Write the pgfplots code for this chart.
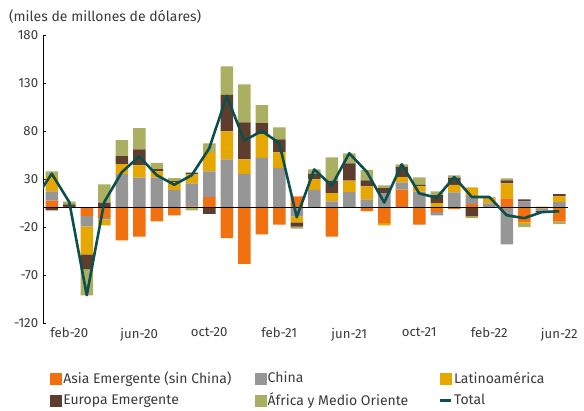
\documentclass[border=0pt]{standalone}
\usepackage{pgfplots}
\pgfplotsset{compat=1.18}
\usepackage{pgfplotstable}
\usepackage{fontspec}
\setmainfont{Fira Sans}
\definecolor{cAsia}{HTML}{F1700F}
\definecolor{cChina}{HTML}{969696}
\definecolor{cLat}{HTML}{E6A800}
\definecolor{cEur}{HTML}{5E3D2F}
\definecolor{cAfr}{HTML}{ABAF62}
\definecolor{cTot}{HTML}{0C4F4C}
\definecolor{txt}{HTML}{3A3A3A}

\pgfplotstableread{
idx asia china lat eur afr
0 7.5 9.5 16 -2.8 5
1 1 0 0 2.5 3
2 -8.3 -11 -29.2 -15.6 -27
3 -10.8 -1.3 -6.2 5.5 18.8
4 -34 35 10.5 8.3 16.7
5 -30 31.5 12.8 16.6 22
6 -14.2 31.5 6.5 2.4 6.3
7 -8 18.3 8.5 1 3
8 1.4 24 9.4 1.8 -2.7
9 11 27 20 -6.3 9
10 -31.6 50.5 29.2 37.8 29.9
11 -58.5 35 15.5 38.5 39.6
12 -27.7 52 24.7 11.4 18.8
13 -17.4 41.5 16.3 13.6 12.5
14 11.8 -9 -6.3 -4.2 -2.1
15 0 18.6 11 6 4.4
16 -30 6.6 8.8 13 24
17 0 16.3 12.1 18 10.4
18 -3.5 8.8 13.6 6.2 11
19 -16 15.4 -2.3 5.2 2.8
20 19 7.5 5.5 10.5 2.8
21 -17.4 16.8 5.6 1.4 8
22 -4.5 -3.5 4.8 8.3 4
23 -1.4 16.1 7.7 7.7 2.4
24 3.9 8.4 9.1 -8.7 -2
25 0 4.5 6 0 1
26 9.7 -38.2 15.8 3.1 2.1
27 -15.3 6.8 -1.4 2.1 -3.4
28 -0.5 -2.5 1.2 -1.5 -0.8
29 -14.3 6 6 2.3 -2.8
}\data

\pgfplotstableread{
idx total
-1 8
0 35.5
1 6
2 -91
3 6
4 37
5 53.5
6 34
7 24
8 34
9 62
10 116.5
11 70
12 80
13 67.5
14 -9.7
15 40
16 23
17 56.8
18 37.5
19 5.5
20 45.3
21 15
22 10.5
23 32
24 11.3
25 11.3
26 -7.8
27 -10.8
28 -4.5
29 -3.6
}\totaldata

\pgfplotsset{base/.style={
  width=525pt, height=288pt, scale only axis,
  xmin=-0.5, xmax=29.5, ymin=-120, ymax=180,
  at={(43pt,87pt)}, anchor=south west,
}}

\begin{document}
\fontsize{14}{16}\selectfont
\begin{tikzpicture}[x=1pt,y=1pt]
\useasboundingbox (0,0) rectangle (584,410);
\node[anchor=west, text=txt, font=\fontsize{14}{16}\selectfont, inner sep=0pt] at (9,393) {(miles de millones de dólares)};

% positive parts
\begin{axis}[base,
  ybar stacked, bar width=12.5pt,
  axis x line*=bottom, axis y line*=left,
  x axis line style={draw=none},
  y axis line style={black, line width=0.8pt},
  ytick={-120,-70,-20,30,80,130,180},
  ytick align=inside,
  major tick length=3pt,
  ytick style={black, line width=0.8pt},
  xtick={1,5,9,13,17,21,25,29},
  xticklabels={feb-20,jun-20,oct-20,feb-21,jun-21,oct-21,feb-22,jun-22},
  xtick style={draw=none},
  ticklabel style={text=txt, font=\fontsize{13.2}{15}\selectfont},
  /pgf/number format/assume math mode=true,
  yticklabel style={/pgf/number format/fixed},
]
\addplot[fill=cAsia, draw=none] table[x=idx, y expr={max(\thisrow{asia},0)}] {\data};
\addplot[fill=cChina, draw=none] table[x=idx, y expr={max(\thisrow{china},0)}] {\data};
\addplot[fill=cLat, draw=none] table[x=idx, y expr={max(\thisrow{lat},0)}] {\data};
\addplot[fill=cEur, draw=none] table[x=idx, y expr={max(\thisrow{eur},0)}] {\data};
\addplot[fill=cAfr, draw=none] table[x=idx, y expr={max(\thisrow{afr},0)}] {\data};
\end{axis}

% negative parts
\begin{axis}[base, hide axis,
  ybar stacked, bar width=12.5pt,
]
\addplot[fill=cAsia, draw=none] table[x=idx, y expr={min(\thisrow{asia},0)}] {\data};
\addplot[fill=cChina, draw=none] table[x=idx, y expr={min(\thisrow{china},0)}] {\data};
\addplot[fill=cLat, draw=none] table[x=idx, y expr={min(\thisrow{lat},0)}] {\data};
\addplot[fill=cEur, draw=none] table[x=idx, y expr={min(\thisrow{eur},0)}] {\data};
\addplot[fill=cAfr, draw=none] table[x=idx, y expr={min(\thisrow{afr},0)}] {\data};
\end{axis}

% zero line, total line and legend
\begin{axis}[base, hide axis,
  legend columns=3,
  legend cell align=left,
  legend style={draw=none, fill=none, at={(0.008,-0.168)}, anchor=north west,
    font=\fontsize{14}{16}\selectfont, text=txt,
    /tikz/every even column/.append style={column sep=0pt},
    row sep=7.5pt, inner ysep=0pt,
    nodes={inner xsep=1.5pt, inner ysep=0pt}},
]
\addplot[black, line width=0.8pt, forget plot] coordinates {(-0.5,0) (29.5,0)};
\addlegendimage{legend image code/.code={\fill[cAsia] (0pt,-5.5pt) rectangle (11pt,5.5pt);}}
\addlegendentry{\makebox[190pt][l]{Asia Emergente (sin China)}}
\addlegendimage{legend image code/.code={\fill[cChina] (0pt,-5.5pt) rectangle (11pt,5.5pt);}}
\addlegendentry{\makebox[170pt][l]{China}}
\addlegendimage{legend image code/.code={\fill[cLat] (0pt,-5.5pt) rectangle (11pt,5.5pt);}}
\addlegendentry{Latinoamérica}
\addlegendimage{legend image code/.code={\fill[cEur] (0pt,-5.5pt) rectangle (11pt,5.5pt);}}
\addlegendentry{\makebox[190pt][l]{Europa Emergente}}
\addlegendimage{legend image code/.code={\fill[cAfr] (0pt,-5.5pt) rectangle (11pt,5.5pt);}}
\addlegendentry{\makebox[170pt][l]{África y Medio Oriente}}
\addplot[cTot, line width=2.6pt, line join=round,
  legend image code/.code={\draw[cTot, line width=2.4pt] (0pt,0pt) -- (11pt,0pt);}]
  table[x=idx, y=total] {\totaldata};
\addlegendentry{Total}
\end{axis}
\end{tikzpicture}
\end{document}
